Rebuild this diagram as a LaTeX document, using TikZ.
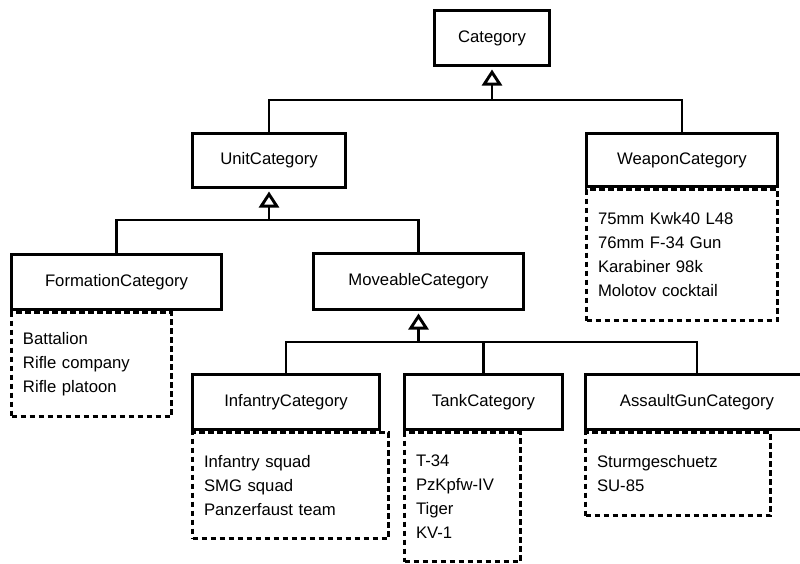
\documentclass[tikz,border=0pt]{standalone}
\usepackage{fontspec}
\setmainfont{Liberation Sans}
\usetikzlibrary{arrows.meta}
\begin{document}
\begin{tikzpicture}[x=1pt,y=-1pt,
  cls/.style={draw, line width=3.3pt, inner sep=0pt, outer sep=0pt, fill=white,
    font=\fontsize{16.7}{24}\selectfont},
  items/.style={draw, dash pattern=on 5.5pt off 3.5pt, line width=3.2pt,
    inner xsep=11.5pt, inner ysep=0pt, outer sep=0pt, align=left,
    anchor=north west, font=\fontsize{16.7}{24}\selectfont},
  link/.style={line width=2.9pt},
  inherit/.style={line width=2.9pt, shorten >=4pt, -{Triangle[open, length=16pt, width=20pt]}}
]
\useasboundingbox (0,0) rectangle (800,563);

% class boxes
\node[cls, minimum width=115pt, minimum height=55pt] (cat) at (492,38) {Category};
\node[cls, minimum width=153pt, minimum height=54pt] (unit) at (269,160.5) {UnitCategory};
\node[cls, minimum width=191pt, minimum height=53pt] (weapon) at (682,160) {WeaponCategory};
\node[cls, minimum width=210pt, minimum height=55pt] (form) at (116.5,282) {FormationCategory};
\node[cls, minimum width=210pt, minimum height=56pt] (move) at (418.5,281.5) {MoveableCategory};
\node[cls, minimum width=187pt, minimum height=55pt] (inf) at (286,402) {InfantryCategory};
\node[cls, minimum width=158pt, minimum height=55pt] (tank) at (483.5,402) {TankCategory};
\node[cls, minimum width=223pt, minimum height=55pt] (assault) at (697,402) {AssaultGunCategory};

% instance lists
\node[items, text width=168pt, minimum height=131pt] (weaponlist) at (586.5,189.5)
  {75mm Kwk40 L48\\76mm F-34 Gun\\Karabiner 98k\\Molotov cocktail};
\node[items, text width=137pt, minimum height=104pt] (formlist) at (11.5,312.5)
  {Battalion\\Rifle company\\Rifle platoon};
\node[items, text width=173pt, minimum height=106pt] (inflist) at (192.5,432.5)
  {Infantry squad\\SMG squad\\Panzerfaust team};
\node[items, text width=93pt, minimum height=129pt] (tanklist) at (404.5,432.5)
  {T-34\\PzKpfw-IV\\Tiger\\KV-1};
\node[items, text width=162pt, minimum height=83pt] (assaultlist) at (585.5,432.5)
  {Sturmgeschuetz\\SU-85};

% inheritance buses
\coordinate (b1) at (492,100);
\coordinate (b2) at (269,220);
\coordinate (b3) at (418.5,342);

\draw[link] (unit.north) |- (b1);
\draw[link] (weapon.north) |- (b1);
\draw[inherit] (b1) -- (cat.south);

\draw[link] (form.north) |- (b2);
\draw[link] (move.north) |- (b2);
\draw[inherit] (b2) -- (unit.south);

\draw[link] (inf.north) |- (b3);
\draw[link] (tank.north) |- (b3);
\draw[link] (assault.north) |- (b3);
\draw[inherit] (b3) -- (move.south);
\end{tikzpicture}
\end{document}
